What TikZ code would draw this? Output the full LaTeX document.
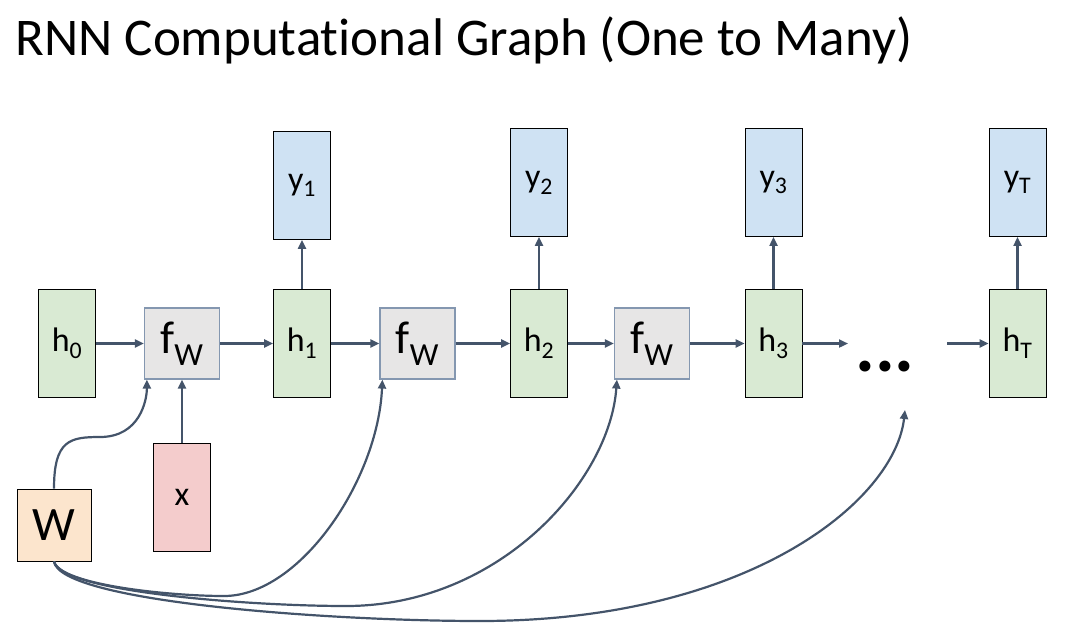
\documentclass[tikz,border=0pt]{standalone}
\usepackage{fontspec}
\setmainfont{Carlito}[Ligatures=NoCommon]
\usepackage{tikz}
\usetikzlibrary{arrows.meta}

\definecolor{hgreen}{HTML}{D9EAD3}
\definecolor{yblue}{HTML}{CFE2F3}
\definecolor{xred}{HTML}{F4CCCC}
\definecolor{worange}{HTML}{FCE5CD}
\definecolor{fgray}{HTML}{E7E6E6}
\definecolor{fedge}{HTML}{8497B0}
\definecolor{linkc}{HTML}{44546A}

\begin{document}
\begin{tikzpicture}[x=1pt, y=-1pt,
    box/.style={draw=black, line width=0.9pt, inner sep=0pt, minimum width=57pt, minimum height=108pt, font=\fontsize{34}{40}\selectfont},
    hbox/.style={box, fill=hgreen},
    ybox/.style={box, fill=yblue},
    fbox/.style={draw=fedge, fill=fgray, line width=1.2pt, inner sep=0pt, minimum width=75pt, minimum height=71pt, font=\fontsize{46}{54}\selectfont},
    link/.style={draw=linkc, line width=2.2pt, -{Triangle[length=9pt, width=8pt]}}]
    \useasboundingbox (0,0) rectangle (1065,627);
    \node[anchor=base west, font=\fontsize{53}{62}\selectfont] (title) at (12,55){RNN Computational Graph (One to Many)};
    \node[hbox] (h0) at (67, 343.5){h\textsubscript{0}};
    \node[fbox] (f1) at (182, 343.5){f\textsubscript{W}};
    \node[hbox] (h1) at (302, 343.5){h\textsubscript{1}};
    \node[fbox] (f2) at (417.5, 343.5){f\textsubscript{W}};
    \node[hbox] (h2) at (539, 343.5){h\textsubscript{2}};
    \node[fbox] (f3) at (652, 343.5){f\textsubscript{W}};
    \node[hbox] (h3) at (773.5, 343.5){h\textsubscript{3}};
    \node[hbox] (hT) at (1017.5, 343.5){h\textsubscript{T}};
    \node[ybox] (y1) at (302, 185.5){y\textsubscript{1}};
    \node[ybox] (y2) at (539, 182.5){y\textsubscript{2}};
    \node[ybox] (y3) at (773.5, 182.5){y\textsubscript{3}};
    \node[ybox] (yT) at (1017.5, 182.5){y\textsubscript{T}};
    \node[box, fill=xred] (x) at (182, 497){x};
    \node[box, fill=worange, minimum width=74pt, minimum height=72pt, font=\fontsize{48}{56}\selectfont] (W) at (54, 525){W};
    \node[font=\bfseries\fontsize{74}{84}\selectfont, inner sep=0pt] (dots) at (885, 367){...};
    \coordinate (dotsin) at (848, 343.5);
    \coordinate (dotsout) at (947, 343.5);
    \coordinate (dotsW) at (905, 410);
    \draw[link] (h0)--(f1);
    \draw[link] (f1)--(h1);
    \draw[link] (h1)--(f2);
    \draw[link] (f2)--(h2);
    \draw[link] (h2)--(f3);
    \draw[link] (f3)--(h3);
    \draw[link] (h3.east)--(dotsin);
    \draw[link] (dotsout)--(hT.west);
    \draw[link] (h1)--(y1);
    \draw[link] (h2)--(y2);
    \draw[link] (h3)--(y3);
    \draw[link] (hT)--(yT);
    \draw[link] (x)--(f1);
    \draw[link] (W.north) .. controls (54,440) and (70,437) .. (100,437) .. controls (140,437) and ([xshift=3pt]f1.south west |- 0,400) .. ([xshift=3pt]f1.south west);
    \draw[link] (W.south) .. controls (60,585) and (170,596) .. (224,596) .. controls (300,596) and (378,480) .. ([xshift=3pt]f2.south west);
    \draw[link] (W.south) .. controls (60,592) and (250,606) .. (346,606) .. controls (500,606) and (610,480) .. ([xshift=3pt]f3.south west);
    \draw[link] (W.south) .. controls (60,602) and (330,621) .. (480,621) .. controls (750,621) and (895,500) .. (dotsW);
\end{tikzpicture}
\end{document}
